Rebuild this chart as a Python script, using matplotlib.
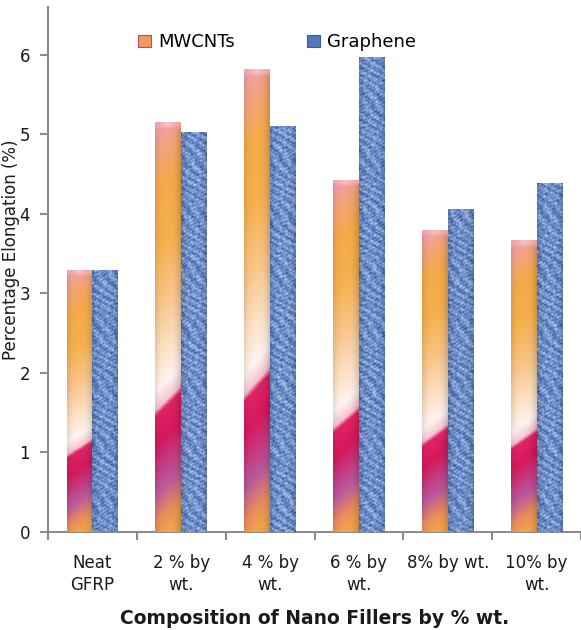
import numpy as np
import matplotlib
matplotlib.use('Agg')
import matplotlib.pyplot as plt
from matplotlib.colors import LinearSegmentedColormap, to_rgb
from matplotlib.patches import Patch

# ---------------- data ----------------
categories = ["Neat\nGFRP", "2 % by\nwt.", "4 % by\nwt.", "6 % by\nwt.", "8% by wt.", "10% by\nwt."]
series_names = ["MWCNTs", "Graphene"]
mwcnt = [3.30, 5.15, 5.82, 4.43, 3.80, 3.67]
graphene = [3.30, 5.03, 5.10, 5.97, 4.06, 4.39]
yticks = [0, 1, 2, 3, 4, 5, 6]
xlabel = "Composition of Nano Fillers by % wt."
ylabel = "Percentage Elongation (%)"

plt.rcParams['font.family'] = ['DejaVu Sans']

W, H = 581, 630
fig = plt.figure(figsize=(W / 100, H / 100), dpi=100)
ax = fig.add_axes([48 / W, 1 - 532 / H, 533 / W, 525 / H])
YMAX = 6.6
PX_PER_UNIT = 525 / YMAX

x = np.arange(len(categories)) + 0.5
w = 0.29
bars_m = ax.bar(x - w / 2, mwcnt, w, color='#f5ab4a', zorder=2, linewidth=0)
bars_g = ax.bar(x + w / 2, graphene, w, color='#5a7cc0', zorder=2, linewidth=0)

# ---- gradient fill for MWCNT bars ----
stops = [(0.00, '#f2a44c'), (0.05, '#ea8c5c'), (0.12, '#b95a9e'), (0.19, '#c8347a'),
         (0.24, '#d6185c'), (0.31, '#de2466'), (0.325, '#f7c4d2'), (0.37, '#fff3f0'),
         (0.46, '#fde0c2'), (0.57, '#f9c68c'), (0.72, '#f6b04e'), (0.86, '#f5aa4a'),
         (0.95, '#f3a47c'), (1.0, '#f1a0a4')]
cmap_m = LinearSegmentedColormap.from_list('mw', stops)

for bar in bars_m:
    x0, h = bar.get_x(), bar.get_height()
    rows = max(int(h * PX_PER_UNIT), 2)
    cols = 30
    t = np.linspace(0, 1, rows)[:, None]
    u = np.linspace(0, 1, cols)[None, :]
    te = np.clip(t - 0.06 * (u - 0.5), 0, 1)
    img = cmap_m(te)[..., :3]
    shade = 1 - 0.13 * (np.abs(u - 0.45) * 2) ** 3
    img = img * shade[..., None]
    # soft top bevel
    ypix = (1 - t) * rows
    cap = np.clip((7 - ypix) / 4, 0, 1) * 0.8
    capcol = np.array(to_rgb('#f3aab0'))
    hl = np.exp(-((u - 0.5) / 0.22) ** 2)[..., None]
    capimg = capcol * (1 - 0.35 * hl) + np.ones(3) * 0.35 * hl
    img = img * (1 - cap[..., None]) + capimg * cap[..., None]
    im = ax.imshow(np.clip(img, 0, 1), extent=(x0, x0 + w, 0, h), origin='lower',
                   aspect='auto', zorder=3, interpolation='bilinear')
    im.set_clip_path(bar)

# ---- mottled woven texture fill for Graphene bars ----
cmap_g = LinearSegmentedColormap.from_list(
    'gr', ['#2e5094', '#4e71b4', '#6d8fcb', '#97b2e0', '#c4d6f2'])
for k, bar in enumerate(bars_g):
    x0, h = bar.get_x(), bar.get_height()
    rows = max(int(h * PX_PER_UNIT), 2) * 2
    cols = 52
    X, Y = np.meshgrid(np.arange(cols) / 2 + 29.0 * k, np.arange(rows) / 2)
    v = (0.5
         + 0.25 * np.sin(X * 1.1 + 2.2 * np.sin(Y * 0.35 + X * 0.2))
         * np.sin(Y * 0.9 + 2.0 * np.sin(X * 0.45 - Y * 0.15))
         + 0.15 * np.sin(X * 0.5 + Y * 0.63 + 3 * np.sin(Y * 0.11))
         + 0.10 * np.cos(Y * 1.7 - X * 0.8 + 1.5 * np.sin(X * 0.27)))
    # short light dashes (weave)
    v += 0.10 * (np.sin(Y * 1.6) > 0.6) * (np.sin(X * 1.2 + Y * 0.4) > 0)
    img = cmap_g(np.clip(v, 0, 1))[..., :3]
    u = np.linspace(0, 1, cols)[None, :]
    shade = 1 - 0.18 * (np.abs(u - 0.5) * 2) ** 3
    img = img * shade[..., None]
    im = ax.imshow(np.clip(img, 0, 1), extent=(x0, x0 + w, 0, h), origin='lower',
                   aspect='auto', zorder=3, interpolation='antialiased')
    im.set_clip_path(bar)

ax.set_xlim(0, len(categories))
ax.set_ylim(0, YMAX)

gray = '#8c8c8c'
for s in ['top', 'right']:
    ax.spines[s].set_visible(False)
for s in ['left', 'bottom']:
    ax.spines[s].set_color(gray)
    ax.spines[s].set_linewidth(1.5)

ax.set_yticks(yticks)
ax.tick_params(axis='y', length=6, width=1.5, color=gray, pad=7, labelsize=12, labelcolor='#1a1a1a')
ax.set_xticks(x)
ax.set_xticklabels(categories)
ax.set_xticks(np.arange(len(categories) + 1), minor=True)
ax.tick_params(axis='x', which='major', length=0, pad=16, labelsize=12, labelcolor='#1a1a1a')
ax.tick_params(axis='x', which='minor', length=6, width=1.5, color=gray)
for t in ax.get_xticklabels():
    t.set_linespacing(1.3)

handles = [Patch(facecolor='#ef9a5c', edgecolor='#c8406e', linewidth=0.8),
           Patch(facecolor='#5577b5', edgecolor='#3a5a98', linewidth=0.8)]
ax.legend(handles, series_names, loc='center', bbox_to_anchor=(0.43, 0.933), ncol=2,
          frameon=False, fontsize=13, handlelength=0.7, handleheight=0.7,
          handletextpad=0.4, columnspacing=4.0)

fig.text(11 / W, 1 - 250 / H, ylabel, rotation=90, ha='center', va='center', fontsize=12,
         color='#1a1a1a')
fig.text((48 + 533 / 2) / W, 1 - 618 / H, xlabel, ha='center', va='center',
         fontsize=13.5, fontweight='bold', color='#1a1a1a')

fig.savefig('out.png', dpi=100)
